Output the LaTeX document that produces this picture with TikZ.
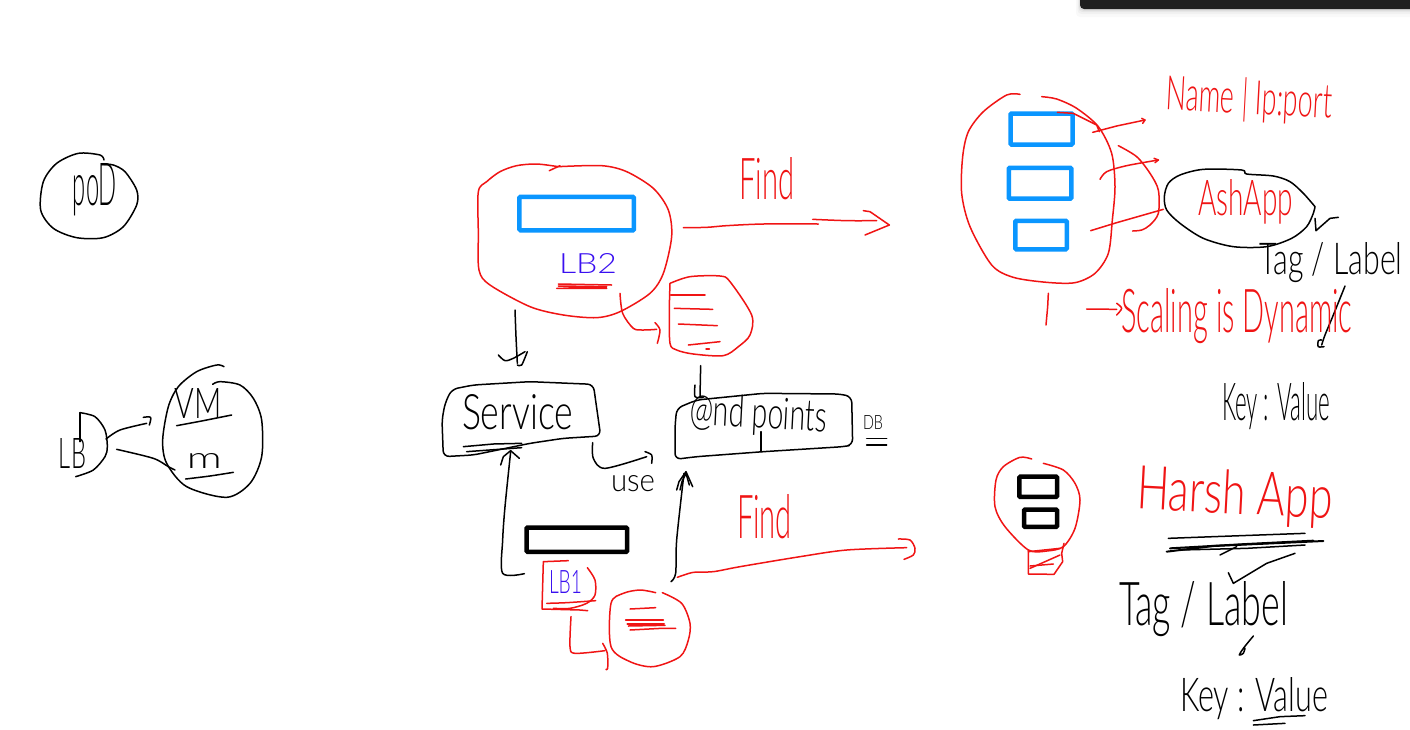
\documentclass[tikz,border=0pt]{standalone}
\usepackage{fontspec}
\usepackage{graphicx}
\setmainfont{Lato}[UprightFont=* Light]
\definecolor{penred}{HTML}{F01414}
\definecolor{penblue}{HTML}{3A10F0}
\definecolor{boxblue}{HTML}{0A96FF}
\definecolor{bardark}{HTML}{1F1F1F}
\tikzset{
  redpen/.style={draw=penred,line width=1.5pt,line cap=round,line join=round},
  blackpen/.style={draw=black,line width=1.5pt,line cap=round,line join=round},
  bluebox/.style={draw=boxblue,line width=4.5pt,rounded corners=1pt,inner sep=0pt,fill=none},
  blackbox/.style={draw=black,line width=4.5pt,rounded corners=1pt,inner sep=0pt,fill=none},
  hand/.style={inner sep=0pt,outer sep=0pt},
  zoomed/.style={x=0.33333pt,y=-0.33333pt}
}
\newcommand{\skt}[2]{\draw[#1] plot[smooth,tension=0.5] coordinates {#2};}
\newcommand{\handtext}[7]{\node[hand,text=#6,rotate=#5] (#1) at (#2) {\resizebox{#3pt}{#4pt}{#7}};}
\begin{document}
\begin{tikzpicture}[x=1pt,y=-1pt]
\useasboundingbox (0,0) rectangle (1410,729);
\fill[white] (0,0) rectangle (1410,729);
% top bar with soft shadow
\foreach \s/\o in {8/0.025,5/0.03,3/0.04,1.5/0.06}{
  \fill[black,opacity=\o,rounded corners=4pt] (1080-0.5*\s,-10) rectangle (1420,9+\s);
}
\fill[bardark,rounded corners=4pt] (1080,-10) rectangle (1420,9);

% --- pod / LB sketch (left) ---
\begin{scope}[shift={(20,140)},zoomed]
\skt{blackpen}{(252,60) (240,45) (175,40) (110,70) (70,125) (62,210) (100,265) (170,293) (250,293) (310,260) (350,195) (350,150) (315,95) (280,75) (252,73)}
\skt{blackpen}{(180,905) (180,818)}
\skt{blackpen}{(180,818) (225,830) (255,870) (262,920) (255,950) (220,990) (167,1010)}
\skt{blackpen}{(258,897) (300,870) (380,850)}
\skt{blackpen}{(370,832) (392,832) (388,855)}
\skt{blackpen}{(290,928) (400,955) (445,980) (465,990)}
\skt{blackpen}{(612,680) (590,675) (530,695) (475,740) (445,800) (428,900) (440,970) (500,1040) (620,1072) (690,1030) (725,950) (725,840) (700,775) (660,735) (600,725) (578,733)}
\skt{blackpen}{(470,857) (550,842) (635,825)}
\skt{blackpen}{(497,1017) (570,1008) (640,997)}
\end{scope}
\handtext{pod}{95,190}{44}{42}{0}{black}{poD}
\handtext{lbleft}{72.5,453}{27}{30}{0}{black}{LB}
\handtext{vm}{198.5,403}{47}{30}{0}{black}{VM}
\handtext{vmm}{204.5,461}{35}{15}{0}{black}{m}

% --- LB2 cluster ---
\node[bluebox,minimum width=114.5pt,minimum height=33.3pt] (lbtwobox) at (576.7,213.6) {};
\begin{scope}[shift={(430,150)},zoomed]
\skt{redpen}{(385,50) (320,42) (260,47) (210,65) (170,95) (145,125) (145,250) (147,360) (180,405) (300,470) (400,495) (500,503) (570,485) (660,430) (700,370) (725,260) (715,180) (670,115) (590,65) (515,47) (385,50)}
\skt{redpen}{(358,62) (390,47)}
\skt{redpen}{(760,233) (830,232) (890,227) (1000,222) (1165,222)}
\skt{redpen}{(1148,208) (1250,212) (1340,212)}
\draw[redpen] (1300,182) -- (1320,185) -- (1378,225) -- (1305,255);
\draw[redpen] (385,402) -- (545,405);
\draw[redpen] (380,415) -- (530,415) -- (385,408) -- (530,410);
\skt{redpen}{(570,430) (578,490) (610,535) (640,540) (680,538)}
\skt{redpen}{(675,518) (690,540) (682,580)}
\skt{redpen}{(720,400) (780,380) (870,378) (900,395) (965,495) (960,555) (925,590) (880,617) (790,612) (740,600) (720,580) (718,480) (720,400)}
\draw[redpen] (722,435) -- (825,435);
\draw[redpen] (733,475) -- (848,478);
\draw[redpen] (745,522) -- (862,527);
\draw[redpen] (775,585) -- (870,575);
\draw[redpen] (828,597) -- (838,597);
\skt{blackpen}{(255,480) (258,560) (262,640)}
\skt{blackpen}{(205,615) (225,632) (250,625) (285,605)}
\skt{blackpen}{(262,645) (275,645) (292,605)}
\skt{blackpen}{(812,647) (810,740)}
\skt{blackpen}{(795,705) (795,740) (820,742)}
% service box
\draw[blackpen,rounded corners=6pt] (45,760) -- (65,718) -- (130,705) -- (300,695) -- (490,703) -- (512,858) -- (400,865) -- (300,880) -- (130,915) -- (40,920) -- (36,810) -- cycle;
\draw[blackpen] (100,890) -- (190,882) -- (275,880);
\draw[blackpen] (110,905) -- (275,893);
\skt{blackpen}{(488,878) (490,925) (525,955) (650,920)}
\skt{blackpen}{(645,905) (665,915) (665,940)}
% endpoints box
\draw[blackpen,rounded corners=6pt] (740,775) -- (800,750) -- (1000,730) -- (1230,732) -- (1265,740) -- (1268,885) -- (1240,890) -- (1000,905) -- (800,920) -- (735,928) -- (735,830) -- cycle;
\draw[blackpen] (993,845) -- (993,905);
\draw[blackpen] (1310,865) -- (1370,865);
\draw[blackpen] (1310,885) -- (1370,885);
\end{scope}
\handtext{findtop}{767,179}{55}{42}{0}{penred}{Find}
\handtext{lbtwo}{588,263}{58}{20}{0}{penblue}{LB2}
\handtext{service}{517.5,412.5}{111}{35}{0}{black}{Service}
\handtext{endpoints}{758.5,416}{137}{32}{-3}{black}{@nd points}
\handtext{db}{873,422}{20}{14}{0}{black}{DB}

% --- LB1 cluster ---
\node[blackbox,minimum width=100.5pt,minimum height=24.3pt] (lbonebox) at (576.8,539.7) {};
\begin{scope}[shift={(480,440)},zoomed]
\skt{blackpen}{(133,401) (68,400) (68,300) (75,200) (92,35)}
\draw[blackpen] (62,75) -- (70,50) -- (92,32) -- (118,55);
\draw[redpen] (265,362) -- (190,365) -- (186,507) -- (300,510) -- (323,512);
\skt{redpen}{(322,383) (345,420) (345,465) (320,490) (270,505) (220,505)}
\skt{redpen}{(200,490) (260,488) (347,482)}
\skt{redpen}{(273,530) (270,620) (285,640) (375,632)}
\skt{redpen}{(368,610) (382,640) (383,685) (378,688)}
\skt{redpen}{(527,458) (480,450) (430,460) (393,490) (393,620) (450,665) (520,680) (600,650) (625,600) (630,550) (605,490) (547,458)}
\draw[redpen] (450,507) -- (527,503);
\draw[redpen] (437,540) -- (550,540);
\draw[redpen,line width=2pt] (442,552) -- (552,552);
\draw[redpen] (445,558) -- (555,556);
\draw[redpen] (450,570) -- (545,565) -- (587,565);
\skt{blackpen}{(573,425) (587,400) (590,300) (612,100)}
\draw[blackpen] (590,150) -- (597,125) -- (618,95) -- (638,140);
\draw[blackpen] (600,150) -- (606,125) -- (618,100) -- (628,135);
\skt{redpen}{(592,412) (640,397) (700,395) (780,380) (960,350) (1100,330) (1280,323)}
\skt{redpen}{(1255,297) (1290,300) (1305,325) (1300,345) (1272,358)}
\end{scope}
\handtext{lbone}{565.5,581.5}{33}{23}{0}{penblue}{LB1}
\handtext{use}{633,484}{44}{16}{0}{black}{use}
\handtext{findbot}{764.5,517}{55}{44}{0}{penred}{Find}

% --- top right cluster ---
\node[bluebox,minimum width=62pt,minimum height=31pt] (boxa) at (1041.5,129) {};
\node[bluebox,minimum width=62.5pt,minimum height=30.8pt] (boxb) at (1040,183.3) {};
\node[bluebox,minimum width=51.5pt,minimum height=28.5pt] (boxc) at (1041,235) {};
\begin{scope}[shift={(950,0)},zoomed]
\skt{redpen}{(210,283) (170,285) (100,335) (55,395) (38,470) (35,580) (60,680) (125,795) (190,832) (290,847) (375,848) (435,820) (475,760) (487,660) (495,560) (485,460) (445,380) (380,325) (320,297) (275,290)}
\draw[redpen] (322,337) -- (370,340) -- (440,375) -- (448,395);
\draw[redpen] (428,397) -- (500,378) -- (585,360);
\draw[redpen] (575,355) -- (585,360) -- (578,370);
\skt{redpen}{(450,538) (470,515) (530,497) (625,480)}
\draw[redpen] (612,475) -- (625,480) -- (615,488);
\draw[redpen] (422,692) -- (500,668) -- (640,628);
\skt{redpen}{(505,437) (560,470) (600,520) (625,570) (625,640) (600,675) (575,690) (548,693)}
\skt{blackpen}{(1095,620) (1060,580) (1020,545) (970,528) (890,522) (875,510) (760,508) (690,525) (655,550) (643,590) (650,630) (690,670) (760,715) (850,740) (950,740) (1025,715) (1070,680) (1090,640) (1095,620)}
\draw[blackpen] (1095,655) -- (1098,692) -- (1140,655) -- (1165,652);
\draw[redpen] (295,880) -- (293,920) -- (288,975);
\draw[redpen] (410,927) -- (500,928);
\skt{redpen}{(500,910) (515,925) (500,945)}
\skt{blackpen}{(1185,858) (1150,945) (1125,1005) (1115,1035)}
\skt{blackpen}{(1115,1020) (1105,1022) (1105,1040) (1122,1040)}
\end{scope}
\handtext{ipname}{1249,100}{166}{36}{-3}{penred}{Name | Ip:port}
\handtext{ashapp}{1245.5,202}{95}{36}{0}{penred}{AshApp}
\handtext{tagtop}{1331,263}{143}{32}{0}{black}{Tag / Label}
\handtext{scaling}{1237,316}{231}{44}{0}{penred}{Scaling is Dynamic}
\handtext{keytop}{1276,406}{108}{38}{0}{black}{Key : Value}

% --- bottom right cluster ---
\node[blackbox,minimum width=37.7pt,minimum height=20.3pt] (boxd) at (1038.2,486.8) {};
\node[blackbox,minimum width=33pt,minimum height=17.3pt] (boxe) at (1040.5,518.3) {};
\begin{scope}[shift={(980,440)},zoomed]
\skt{redpen}{(155,57) (120,52) (70,80) (48,120) (45,200) (75,260) (145,330) (200,333) (250,320) (285,265) (300,180) (285,130) (250,90) (190,70)}
\draw[redpen] (145,330) -- (145,402) -- (222,403) -- (248,365) -- (245,340) -- (252,310);
\draw[redpen] (145,335) -- (240,325);
\draw[redpen] (150,378) -- (220,372);
\draw[redpen] (150,385) -- (240,345);
\draw[blackpen] (565,295) -- (700,290) -- (975,280);
\draw[blackpen,line width=2pt] (560,335) -- (700,318) -- (1030,303);
\draw[blackpen,line width=2pt] (570,325) -- (800,312) -- (1000,302);
\draw[blackpen] (600,330) -- (800,325) -- (975,315);
\draw[blackpen] (720,345) -- (770,320);
\draw[blackpen] (745,398) -- (760,430) -- (860,370) -- (945,340);
\draw[blackpen] (820,842) -- (900,830) -- (975,827);
\draw[blackpen] (820,855) -- (915,850);
\skt{blackpen}{(820,588) (790,625) (778,645) (790,640) (795,625)}
\end{scope}
\handtext{harsh}{1235,497}{196}{44}{-3}{penred}{Harsh App}
\handtext{tagbot}{1203.5,609}{169}{44}{0}{black}{Tag / Label}
\handtext{keybot}{1254,699}{148}{34}{0}{black}{Key : Value}
\end{tikzpicture}
\end{document}
